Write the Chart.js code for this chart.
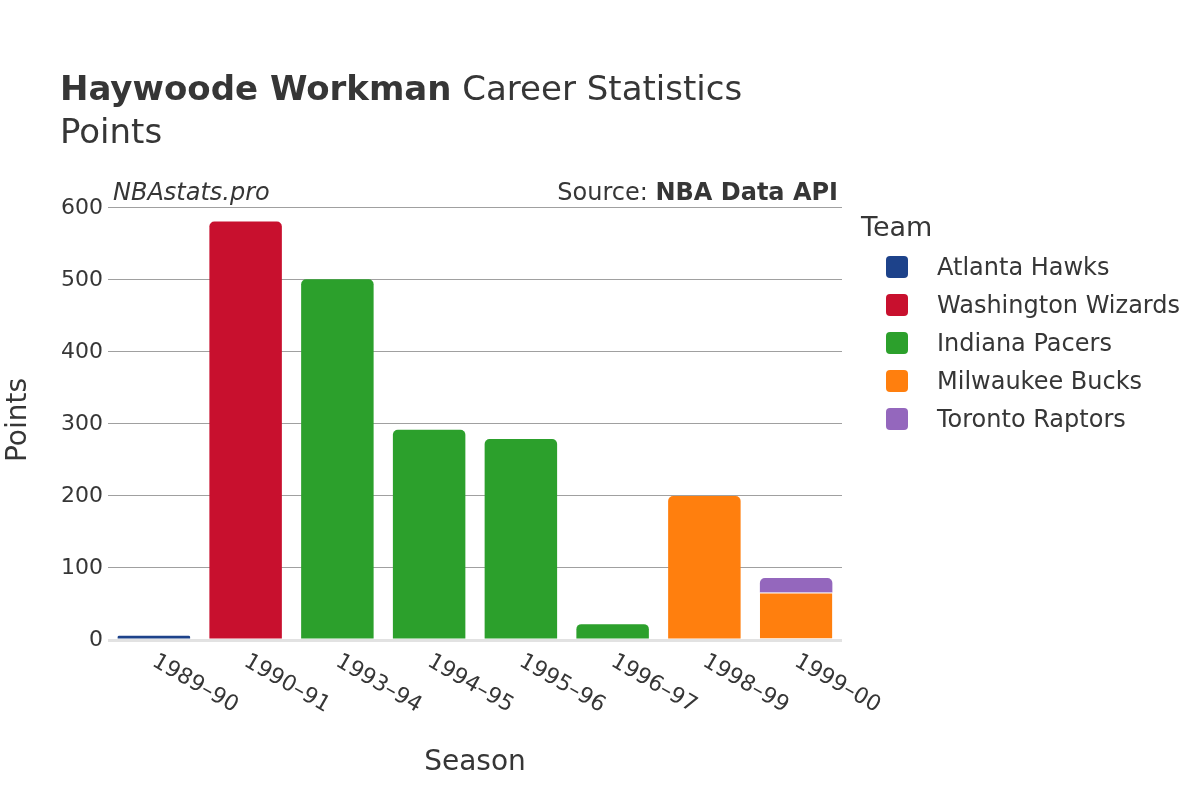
<!DOCTYPE html>
<html>
<head>
<meta charset="utf-8">
<script src="https://cdn.jsdelivr.net/npm/chart.js@4"></script>
<style>
  html, body { margin: 0; padding: 0; background: #fff; }
  canvas { display: block; }
</style>
</head>
<body>
<canvas id="chart" width="1200" height="800" style="width:1200px;height:800px"></canvas>
<script>
const seasons = ["1989–90", "1990–91", "1993–94", "1994–95", "1995–96", "1996–97", "1998–99", "1999–00"];
const atlantaHawks = [6, null, null, null, null, null, null, null];
const washingtonWizards = [null, 581, null, null, null, null, null, null];
const indianaPacers = [null, null, 501, 292, 279, 22, null, null];
const milwaukeeBucks = [null, null, null, null, null, null, 200, 66];
const torontoRaptors = [null, null, null, null, null, null, null, 20];
const yTicks = [0, 100, 200, 300, 400, 500, 600];

const FONT = "DejaVu Sans";
const TEXT = "#363636";

const teams = [
  { name: "Atlanta Hawks", color: "#1d428a", values: atlantaHawks },
  { name: "Washington Wizards", color: "#c8102e", values: washingtonWizards },
  { name: "Indiana Pacers", color: "#2ca02c", values: indianaPacers },
  { name: "Milwaukee Bucks", color: "#ff7f0e", values: milwaukeeBucks },
  { name: "Toronto Raptors", color: "#9467bd", values: torontoRaptors },
];

// is there another team stacked above this bar?
const hasAbove = (dsIndex, i) =>
  teams.slice(dsIndex + 1).some((t) => t.values[i] != null);

const textPlugin = {
  id: "texts",
  afterDraw(chart) {
    const ctx = chart.ctx;
    const xs = chart.scales.x;
    ctx.save();
    ctx.fillStyle = TEXT;
    ctx.textBaseline = "middle";

    // title
    ctx.textAlign = "left";
    ctx.font = `bold 34px "${FONT}"`;
    ctx.fillText("Haywoode Workman", 60, 91);
    const w = ctx.measureText("Haywoode Workman").width;
    ctx.font = `34px "${FONT}"`;
    ctx.fillText(" Career Statistics", 60 + w, 91);
    ctx.fillText("Points", 60, 134);

    // watermark and source
    ctx.font = `italic 24px "${FONT}"`;
    ctx.fillText("NBAstats.pro", 113, 194);
    ctx.textAlign = "right";
    ctx.font = `bold 24px "${FONT}"`;
    ctx.fillText("NBA Data API", 838, 194);
    const bw = ctx.measureText("NBA Data API").width;
    ctx.font = `24px "${FONT}"`;
    ctx.fillText("Source: ", 838 - bw, 194);

    // axis titles
    ctx.textAlign = "center";
    ctx.font = `28px "${FONT}"`;
    ctx.fillText("Season", 475, 763);
    ctx.save();
    ctx.translate(19, 420);
    ctx.rotate(-Math.PI / 2);
    ctx.fillText("Points", 0, 0);
    ctx.restore();

    // rotated x tick labels
    ctx.font = `22px "${FONT}"`;
    ctx.textAlign = "left";
    seasons.forEach((s, i) => {
      const x = xs.getPixelForValue(i);
      ctx.save();
      ctx.translate(x, 660);
      ctx.rotate(Math.PI / 6);
      ctx.fillText(s, 0, 0);
      ctx.restore();
    });

    // legend
    ctx.font = `27px "${FONT}"`;
    ctx.fillText("Team", 861, 229);
    ctx.font = `24px "${FONT}"`;
    chart.data.datasets.forEach((ds, i) => {
      const y = 267 + i * 38;
      ctx.fillStyle = ds.backgroundColor;
      ctx.beginPath();
      ctx.roundRect(886, y - 11, 22, 22, 4);
      ctx.fill();
      ctx.fillStyle = TEXT;
      ctx.fillText(ds.label, 937, y + 2);
    });
    ctx.restore();
  },
};

new Chart(document.getElementById("chart"), {
  type: "bar",
  data: {
    labels: seasons,
    datasets: teams.map((t, di) => ({
      label: t.name,
      data: t.values,
      backgroundColor: t.color,
      borderColor: "#ffffff",
      borderWidth: (c) =>
        hasAbove(di, c.dataIndex) ? { top: 1, left: 0, right: 0, bottom: 0 } : 0,
      borderSkipped: "start",
      borderRadius: (c) =>
        hasAbove(di, c.dataIndex)
          ? 0
          : { topLeft: 5, topRight: 5, bottomLeft: 0, bottomRight: 0 },
      categoryPercentage: 1.0,
      barPercentage: 0.79,
    })),
  },
  options: {
    responsive: false,
    animation: false,
    devicePixelRatio: 1,
    layout: {
      padding: { top: 200, right: 358, left: 0, bottom: 0 },
    },
    plugins: {
      legend: { display: false },
      title: { display: false },
      tooltip: { enabled: false },
    },
    scales: {
      x: {
        stacked: true,
        grid: { display: false },
        border: { display: false },
        ticks: { display: false },
        afterFit: (scale) => {
          scale.height = 160;
        },
      },
      y: {
        stacked: true,
        min: 0,
        max: 611,
        afterBuildTicks: (scale) => {
          scale.ticks = yTicks.map((v) => ({ value: v }));
        },
        afterFit: (scale) => {
          scale.width = 108;
        },
        border: { display: false },
        grid: {
          drawTicks: false,
          color: (c) => (c.tick && c.tick.value === 0 ? "#e2e2e2" : "#a0a0a0"),
          lineWidth: (c) => (c.tick && c.tick.value === 0 ? 3 : 1),
        },
        ticks: {
          padding: 5,
          color: TEXT,
          font: { size: 22, family: FONT },
        },
      },
    },
  },
  plugins: [textPlugin],
});
</script>
</body>
</html>
